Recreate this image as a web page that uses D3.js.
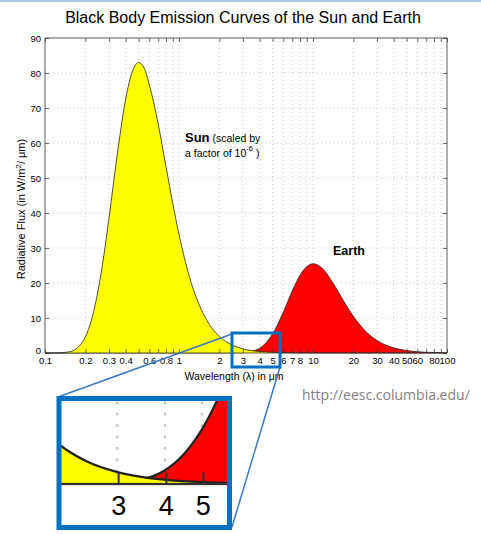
<!DOCTYPE html>
<html>
<head>
<meta charset="utf-8">
<script src="https://cdn.jsdelivr.net/npm/d3@7"></script>
<style>
  body { margin: 0; background: #fff; }
  svg { display: block; font-family: "Liberation Sans", Arial, Helvetica, sans-serif; }
</style>
</head>
<body>
<div id="chart"></div>
<script>
// values (W/m2/um, Sun scaled by 1e-6)
const sunWavelength = [0.1, 0.12, 0.15, 0.175, 0.2, 0.225, 0.25, 0.275, 0.3, 0.35, 0.4, 0.45, 0.5, 0.55, 0.6, 0.7, 0.8, 0.9, 1, 1.2, 1.5, 1.75, 2, 2.5, 3, 4, 5, 6, 8, 10, 20, 100]
const sunFlux = [0, 0.01, 0.31, 1.52, 4.6, 10.2, 18.2, 27.9, 38.4, 58.1, 72.6, 80.6, 83.0, 81.4, 76.7, 65.4, 53.2, 42.6, 33.9, 21.6, 11.6, 7.24, 4.73, 2.25, 1.19, 0.42, 0.19, 0.09, 0.03, 0.01, 0, 0]

const earthWavelength = [0.1, 2, 3, 3.5, 4, 4.5, 5, 6, 7, 8, 9, 10, 11, 12, 13.5, 15, 17.5, 20, 25, 30, 40, 50, 60, 80, 100]
const earthFlux = [0, 0, 0.09, 0.45, 1.38, 3.06, 5.48, 11.65, 17.72, 22.2, 24.7, 25.5, 25.0, 23.8, 21.1, 18.3, 13.9, 10.5, 6.0, 3.6, 1.47, 0.70, 0.37, 0.13, 0.06]

const xTickLabels = [0.1, 0.2, 0.3, 0.4, 0.6, 0.8, 1, 2, 3, 4, 5, 6, 7, 8, 10, 20, 30, 40, 50, 60, 80, 100]
const yTicks = [0, 10, 20, 30, 40, 50, 60, 70, 80, 90]

const width = 481
const height = 534

const x = d3.scaleLog().domain([0.1, 100]).range([45, 447])
const y = d3.scaleLinear().domain([0, 90]).range([353, 38])

const svg = d3.select('#chart').append('svg')
  .attr('width', width)
  .attr('height', height)

// thin slide border on top
svg.append('rect')
  .attr('x', 0).attr('y', 0).attr('width', width).attr('height', 2)
  .attr('fill', '#a9c6e4')

const defs = svg.append('defs')

// ---- plot (also re-used for the magnified inset)
const plot = svg.append('g').attr('id', 'plot')

plot.append('rect')
  .attr('x', 45).attr('y', 38)
  .attr('width', 402).attr('height', 315)
  .attr('fill', '#fff')

const xTicks = x.ticks()

plot.append('g')
  .selectAll('line')
  .data(xTicks.filter(d => d > 0.1 && d < 100))
  .join('line')
  .attr('x1', d => x(d)).attr('x2', d => x(d))
  .attr('y1', y(0)).attr('y2', y(90))
  .attr('stroke', '#c4c4c4')
  .attr('stroke-width', 0.8)
  .attr('stroke-dasharray', '1,3')

plot.append('g')
  .selectAll('line')
  .data(yTicks.filter(d => d > 0 && d < 90))
  .join('line')
  .attr('x1', x(0.1)).attr('x2', x(100))
  .attr('y1', d => y(d)).attr('y2', d => y(d))
  .attr('stroke', '#c4c4c4')
  .attr('stroke-width', 0.8)
  .attr('stroke-dasharray', '1,3')

const area = d3.area()
  .x(d => x(d[0]))
  .y0(y(0))
  .y1(d => y(d[1]))
  .curve(d3.curveMonotoneX)

const line = d3.line()
  .x(d => x(d[0]))
  .y(d => y(d[1]))
  .curve(d3.curveMonotoneX)

const earth = earthWavelength.map((w, i) => [w, earthFlux[i]])
const sun = sunWavelength.map((w, i) => [w, sunFlux[i]])

plot.append('path').datum(earth).attr('d', area).attr('fill', '#ff0000')
plot.append('path').datum(earth).attr('d', line)
  .attr('fill', 'none').attr('stroke', '#222').attr('stroke-width', 0.8)
plot.append('path').datum(sun).attr('d', area).attr('fill', '#ffff00')
plot.append('path').datum(sun).attr('d', line)
  .attr('fill', 'none').attr('stroke', '#222').attr('stroke-width', 0.8)

// axes, ticks pointing inwards
const xFmt = d => (xTickLabels.includes(+d.toPrecision(3)) ? String(+d.toPrecision(3)) : '')

plot.append('g')
  .attr('transform', `translate(0,${y(0)})`)
  .call(d3.axisBottom(x).tickValues(xTicks).tickSize(-4).tickPadding(4).tickFormat(xFmt))
plot.append('g')
  .attr('transform', `translate(0,${y(90)})`)
  .call(d3.axisTop(x).tickValues(xTicks).tickSize(-4).tickFormat(''))
const yAxis = plot.append('g')
  .attr('transform', `translate(${x(0.1)},0)`)
  .call(d3.axisLeft(y).tickValues(yTicks).tickSize(-4).tickPadding(4))
plot.append('g')
  .attr('transform', `translate(${x(100)},0)`)
  .call(d3.axisRight(y).tickValues(yTicks).tickSize(-4).tickFormat(''))

plot.selectAll('.domain').remove()
plot.selectAll('.tick line').attr('stroke', '#333').attr('stroke-width', 0.7)
plot.selectAll('.tick text').attr('fill', '#000').attr('font-size', 9.5)
  .attr('font-family', '"Liberation Sans", Arial, sans-serif')
yAxis.selectAll('.tick text').filter(d => d === 0).attr('dy', '0.05em')

plot.append('rect')
  .attr('x', 45).attr('y', 38)
  .attr('width', 402).attr('height', 315)
  .attr('fill', 'none').attr('stroke', '#333').attr('stroke-width', 0.8)

// labels
svg.append('text')
  .attr('x', 243).attr('y', 23)
  .attr('text-anchor', 'middle')
  .attr('font-size', 16)
  .text('Black Body Emission Curves of the Sun and Earth')

svg.append('text')
  .attr('x', 234).attr('y', 380)
  .attr('text-anchor', 'middle')
  .attr('font-size', 10.5)
  .text('Wavelength (λ) in μm')

const yLab = svg.append('text')
  .attr('transform', 'translate(25,209) rotate(-90)')
  .attr('text-anchor', 'middle')
  .attr('font-size', 11)
yLab.append('tspan').text('Radiative Flux (in W/m')
yLab.append('tspan').attr('font-size', 8).attr('dy', -4).text('2')
yLab.append('tspan').attr('dy', 4).text('/ μm)')

const sunLab = svg.append('text').attr('x', 185).attr('y', 142)
sunLab.append('tspan').attr('font-weight', 'bold').attr('font-size', 13).text('Sun')
sunLab.append('tspan').attr('font-size', 10.5).text(' (scaled by')
const sunLab2 = svg.append('text').attr('x', 185).attr('y', 157).attr('font-size', 10.5)
sunLab2.append('tspan').text('a factor of 10')
sunLab2.append('tspan').attr('font-size', 7.5).attr('dy', -6).text('-6')
sunLab2.append('tspan').attr('dy', 6).text(' )')

svg.append('text')
  .attr('x', 333).attr('y', 255)
  .attr('font-weight', 'bold').attr('font-size', 12.5)
  .text('Earth')

svg.append('text')
  .attr('x', 302).attr('y', 400)
  .attr('font-family', '"Open Sans", "Noto Sans", sans-serif')
  .attr('font-size', 14)
  .attr('fill', '#7f7f7f')
  .text('http://eesc.columbia.edu/')

// ---- magnified inset
const inset = { x: 59, y: 398.5, w: 170.5, h: 129 }
const zoomK = 2.85
const zoomFrom = [222.5, 323]

svg.append('g')
  .attr('stroke', '#3a78c2').attr('stroke-width', 1.5)
  .selectAll('line')
  .data([[232, 334, 58, 397], [280, 367, 232, 527]])
  .join('line')
  .attr('x1', d => d[0]).attr('y1', d => d[1])
  .attr('x2', d => d[2]).attr('y2', d => d[3])

defs.append('clipPath').attr('id', 'insetClip')
  .append('rect')
  .attr('x', inset.x).attr('y', inset.y)
  .attr('width', inset.w).attr('height', inset.h)

const insetG = svg.append('g').attr('clip-path', 'url(#insetClip)')
insetG.append('rect')
  .attr('x', inset.x).attr('y', inset.y)
  .attr('width', inset.w).attr('height', inset.h)
  .attr('fill', '#fff')
insetG.append('use')
  .attr('href', '#plot')
  .attr('transform', `translate(${inset.x},${inset.y}) scale(${zoomK}) translate(${-zoomFrom[0]},${-zoomFrom[1]})`)

svg.append('rect')
  .attr('x', inset.x).attr('y', inset.y)
  .attr('width', inset.w).attr('height', inset.h)
  .attr('fill', 'none').attr('stroke', '#0070c0').attr('stroke-width', 5)

svg.append('rect')
  .attr('x', 232).attr('y', 333)
  .attr('width', 48).attr('height', 34)
  .attr('fill', 'none').attr('stroke', '#0070c0').attr('stroke-width', 3)
</script>
</body>
</html>
